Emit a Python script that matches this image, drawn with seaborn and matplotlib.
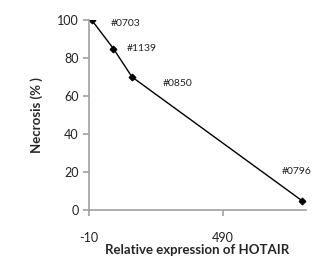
import matplotlib
matplotlib.use("Agg")
import matplotlib.pyplot as plt
import seaborn as sns
import pandas as pd

expression = [0, 81, 151, 786]
necrosis = [100, 85, 70, 5]
samples = ["#0703", "#1139", "#0850", "#0796"]
x_ticks = [-10, 490]
y_ticks = [0, 20, 40, 60, 80, 100]

df = pd.DataFrame({"expr": expression, "necrosis": necrosis, "sample": samples})

sns.set_theme(style="ticks")
plt.rcParams['font.family'] = ['Lato', 'DejaVu Sans']
plt.rcParams['axes.unicode_minus'] = False

fig = plt.figure(figsize=(3.34, 2.65), dpi=100)
ax = fig.add_axes([89/334, 1-210/265, (306-89)/334, (210-20)/265])

sns.lineplot(data=df, x="expr", y="necrosis", ax=ax, color="black", lw=1.0,
             marker="D", markersize=3.5, markeredgecolor="black", markerfacecolor="black")

# label offsets in pixels (dx right, dy up)
offsets_px = [(19, -4), (13, 0), (31, -7), (-20, 29)]
for x, y, s, (dx, dy) in zip(expression, necrosis, samples, offsets_px):
    ax.annotate(s, (x, y), xytext=(dx * 0.72, dy * 0.72), textcoords="offset points",
                ha="left", va="center", fontsize=7.5, color="#222222")

ax.set_xlim(-10, 802)
ax.set_ylim(0, 100)
ax.set_xticks(x_ticks)
ax.set_yticks(y_ticks)
for sp in ["top", "right"]:
    ax.spines[sp].set_visible(False)
for sp in ["left", "bottom"]:
    ax.spines[sp].set_color("#a0a0a0")
    ax.spines[sp].set_linewidth(1.2)
ax.tick_params(axis="both", colors="#a0a0a0", length=4, width=1.2, labelsize=9, labelcolor="#222222")
ax.tick_params(axis="x", pad=12)
ax.set_xlabel("Relative expression of HOTAIR", fontsize=9.5, fontweight="bold", labelpad=0)
ax.set_ylabel("Necrosis (% )", fontsize=9.5, fontweight="bold", labelpad=10)

fig.savefig("out.png", dpi=100)
